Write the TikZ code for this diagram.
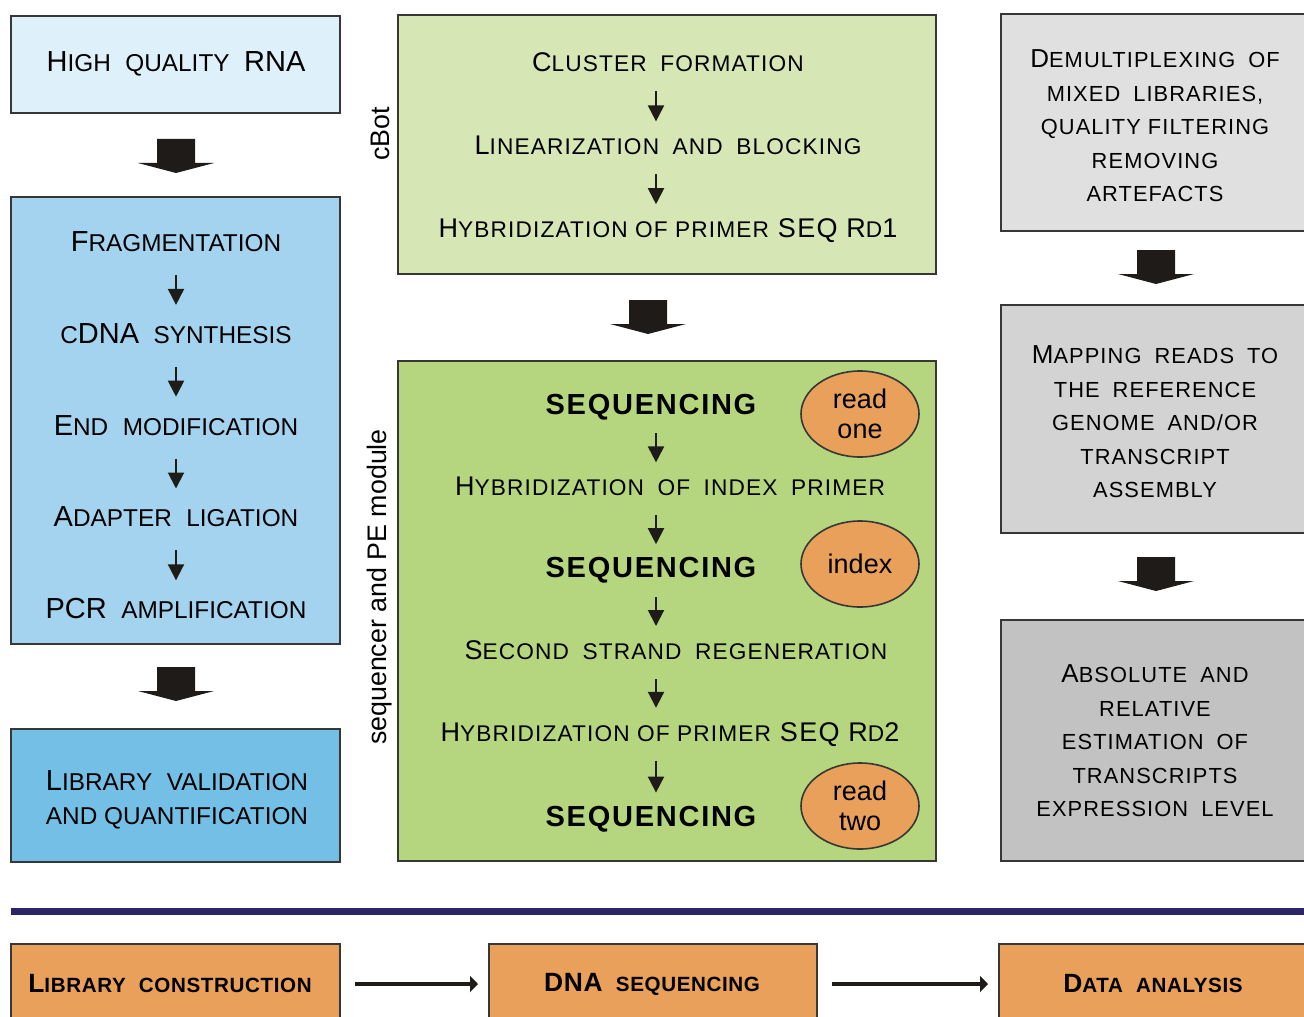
\documentclass[tikz,border=0pt]{standalone}
\usepackage{fontspec}
\setmainfont{Liberation Sans}
\usepackage{tikz}
\usetikzlibrary{positioning}
\usetikzlibrary{arrows.meta}
\usetikzlibrary{calc}
\usetikzlibrary{fit}
\usetikzlibrary{shapes.geometric}
\definecolor{rnacolor}{RGB}{222,240,250}
\definecolor{prepcolor}{RGB}{163,211,239}
\definecolor{libcolor}{RGB}{116,191,230}
\definecolor{cbotcolor}{RGB}{214,230,181}
\definecolor{seqcolor}{RGB}{181,214,126}
\definecolor{stagecolor}{RGB}{232,160,90}
\definecolor{greyone}{RGB}{224,224,224}
\definecolor{greytwo}{RGB}{211,211,211}
\definecolor{greythree}{RGB}{194,194,194}
\definecolor{rulecolor}{RGB}{43,36,102}
\definecolor{arrowcolor}{RGB}{30,27,24}
\definecolor{edgecolor}{RGB}{55,55,55}
\newcommand{\scap}[1]{\scalebox{0.84}{#1}}
\newcommand{\wsp}{\hspace{0.5em}}

\begin{document}
\begin{tikzpicture}[
    x=0.5pt, y=-0.5pt,
    box/.style={draw=edgecolor, line width=1pt, fill=#1, inner sep=0pt},
    lefttxt/.style={font=\fontsize{14.5}{17}\selectfont, text height=10.5pt, text depth=3pt, inner sep=0pt},
    midtxt/.style={font=\fontsize{13.5}{15}\selectfont\addfontfeatures{LetterSpace=5}, text height=9.5pt, text depth=2.5pt, inner sep=0pt},
    seqtxt/.style={midtxt, font=\fontsize{14.5}{17}\selectfont\bfseries\addfontfeatures{LetterSpace=6}},
    righttxt/.style={font=\fontsize{13}{16.75}\selectfont\addfontfeatures{LetterSpace=5}, align=center, inner sep=0pt},
    oval/.style={ellipse, draw=edgecolor, line width=0.8pt, fill=stagecolor, minimum width=59pt, minimum height=43pt, inner sep=0pt, align=center, font=\fontsize{13.5}{15.3}\selectfont},
    sidelabel/.style={rotate=90, font=\fontsize{13.4}{15}\selectfont, inner sep=0pt},
    stagetxt/.style={font=\fontsize{13.2}{15}\selectfont\bfseries\addfontfeatures{LetterSpace=3}, inner sep=0pt},
    sarr/.style={-{Triangle[length=8pt,width=8pt]}, line width=1pt, draw=arrowcolor, shorten <=#1, shorten >=#1},
    flow/.style={-{Triangle[length=4pt,width=8pt]}, line width=1.6pt, draw=arrowcolor, shorten <=7pt, shorten >=5pt},
    bigarrow/.pic={\fill[arrowcolor] (-19,0) -- (19,0) -- (19,24) -- (38,24) -- (0,34) -- (-38,24) -- (-19,24) -- cycle;}
]
\useasboundingbox (0,0) rectangle (1304,1016);
\clip (0,0) rectangle (1304,1016);

% Library construction
\node[box=rnacolor, fit={(11,16) (340,113)}] (rna) {};
\node[box=prepcolor, fit={(11,197) (340,644)}] (prep) {};
\node[box=libcolor, fit={(11,729) (340,862)}] (lib) {};
\node[lefttxt] (rnatxt) at (176,64) {H\scap{IGH}\wsp\scap{QUALITY}\wsp RNA};
\node[lefttxt] (f1) at (176,244) {F\scap{RAGMENTATION}};
\node[lefttxt, below=32pt of f1] (f2) {\scap{C}DNA\wsp\scap{SYNTHESIS}};
\node[lefttxt, below=32pt of f2] (f3) {E\scap{ND}\wsp\scap{MODIFICATION}};
\node[lefttxt, below=32pt of f3] (f4) {A\scap{DAPTER}\wsp\scap{LIGATION}};
\node[lefttxt, below=32pt of f4] (f5) {PCR\wsp\scap{AMPLIFICATION}};
\node[lefttxt, text height=, text depth=, align=center, font=\fontsize{14.5}{17}\selectfont] (libtxt) at (177,800) {L\scap{IBRARY}\wsp\scap{VALIDATION}\\\scap{AND QUANTIFICATION}};
\draw[sarr=8.5pt] (f1) -- (f2);
\draw[sarr=8.5pt] (f2) -- (f3);
\draw[sarr=8.5pt] (f3) -- (f4);
\draw[sarr=8.5pt] (f4) -- (f5);
\pic at (176,139) {bigarrow};
\pic at (176,667) {bigarrow};

% DNA sequencing
\node[box=cbotcolor, fit={(398,15) (936,274)}] (cbot) {};
\node[box=seqcolor, fit={(398,361) (936,861)}] (seqbox) {};
\node[sidelabel] (cbotlab) at (380,134) {cBot};
\node[sidelabel] (seqlab) at (380,587) {sequencer and PE module};
\coordinate (arrx) at (656,0);
\node[midtxt] (c1) at (668,65) {C\scap{LUSTER}\wsp\scap{FORMATION}};
\node[midtxt, below=29pt of c1] (c2) {L\scap{INEARIZATION}\wsp\scap{AND}\wsp\scap{BLOCKING}};
\node[midtxt, below=29pt of c2] (c3) {H\scap{YBRIDIZATION OF PRIMER} SEQ R\scap{D}1};
\draw[sarr=7pt] (c1.south -| arrx) -- (c2.north -| arrx);
\draw[sarr=7pt] (c2.south -| arrx) -- (c3.north -| arrx);
\pic at (648,300) {bigarrow};

\node[seqtxt] (s1) at (651,407) {SEQUENCING};
\node[midtxt, below=28.5pt of s1, xshift=9.5pt] (s2) {H\scap{YBRIDIZATION}\wsp\scap{OF}\wsp\scap{INDEX}\wsp\scap{PRIMER}};
\node[seqtxt, below=28.5pt of s2, xshift=-9.5pt] (s3) {SEQUENCING};
\node[midtxt, below=28.5pt of s3, xshift=12.5pt] (s4) {S\scap{ECOND}\wsp\scap{STRAND}\wsp\scap{REGENERATION}};
\node[midtxt, below=28.5pt of s4, xshift=-3pt] (s5) {H\scap{YBRIDIZATION OF PRIMER} SEQ R\scap{D}2};
\node[seqtxt, below=30pt of s5, xshift=-9.5pt] (s6) {SEQUENCING};
\draw[sarr=7pt] (s1.south -| arrx) -- (s2.north -| arrx);
\draw[sarr=7pt] (s2.south -| arrx) -- (s3.north -| arrx);
\draw[sarr=7pt] (s3.south -| arrx) -- (s4.north -| arrx);
\draw[sarr=7pt] (s4.south -| arrx) -- (s5.north -| arrx);
\draw[sarr=7pt] (s5.south -| arrx) -- (s6.north -| arrx);
\node[oval] (readone) at (860,414) {read\\one};
\node[oval] (index) at (860,564) {index};
\node[oval] (readtwo) at (860,806) {read\\two};

% Data analysis
\node[box=greyone, fit={(1001,14) (1320,231)}] (demux) {};
\node[box=greytwo, fit={(1001,305) (1320,533)}] (mapping) {};
\node[box=greythree, fit={(1001,620) (1320,861)}] (expr) {};
\node[righttxt] (demuxtxt) at (1155,126) {D\scap{EMULTIPLEXING}\wsp\scap{OF}\\\scap{MIXED}\wsp\scap{LIBRARIES,}\\\scap{QUALITY FILTERING}\\\scap{REMOVING}\\\scap{ARTEFACTS}};
\node[righttxt] (maptxt) at (1155,422) {M\scap{APPING}\wsp\scap{READS}\wsp\scap{TO}\\\scap{THE}\wsp\scap{REFERENCE}\\\scap{GENOME}\wsp\scap{AND/OR}\\\scap{TRANSCRIPT}\\\scap{ASSEMBLY}};
\node[righttxt] (exprtxt) at (1155,741) {A\scap{BSOLUTE}\wsp\scap{AND}\\\scap{RELATIVE}\\\scap{ESTIMATION}\wsp\scap{OF}\\\scap{TRANSCRIPTS}\\\scap{EXPRESSION}\wsp\scap{LEVEL}};
\pic at (1156,250) {bigarrow};
\pic at (1156,557) {bigarrow};

% Separator and stages
\coordinate (ruleL) at (11,911.5);
\coordinate (ruleR) at (1320,911.5);
\draw[line width=3.5pt, rulecolor] (ruleL) -- (ruleR);
\node[box=stagecolor, fit={(11,944) (340,1024)}] (stage1) {};
\node[box=stagecolor, fit={(489,944) (817,1024)}] (stage2) {};
\node[box=stagecolor, fit={(999,944) (1320,1024)}] (stage3) {};
\node[stagetxt] (stage1txt) at (170,984) {L\scalebox{0.78}{IBRARY}\wsp\scalebox{0.78}{CONSTRUCTION}};
\node[stagetxt] (stage2txt) at (652,984) {DNA\wsp\scalebox{0.78}{SEQUENCING}};
\node[stagetxt] (stage3txt) at (1153,984) {D\scalebox{0.78}{ATA}\wsp\scalebox{0.78}{ANALYSIS}};
\draw[flow] (stage1) -- (stage2);
\draw[flow] (stage2) -- (stage3);
\end{tikzpicture}
\end{document}
